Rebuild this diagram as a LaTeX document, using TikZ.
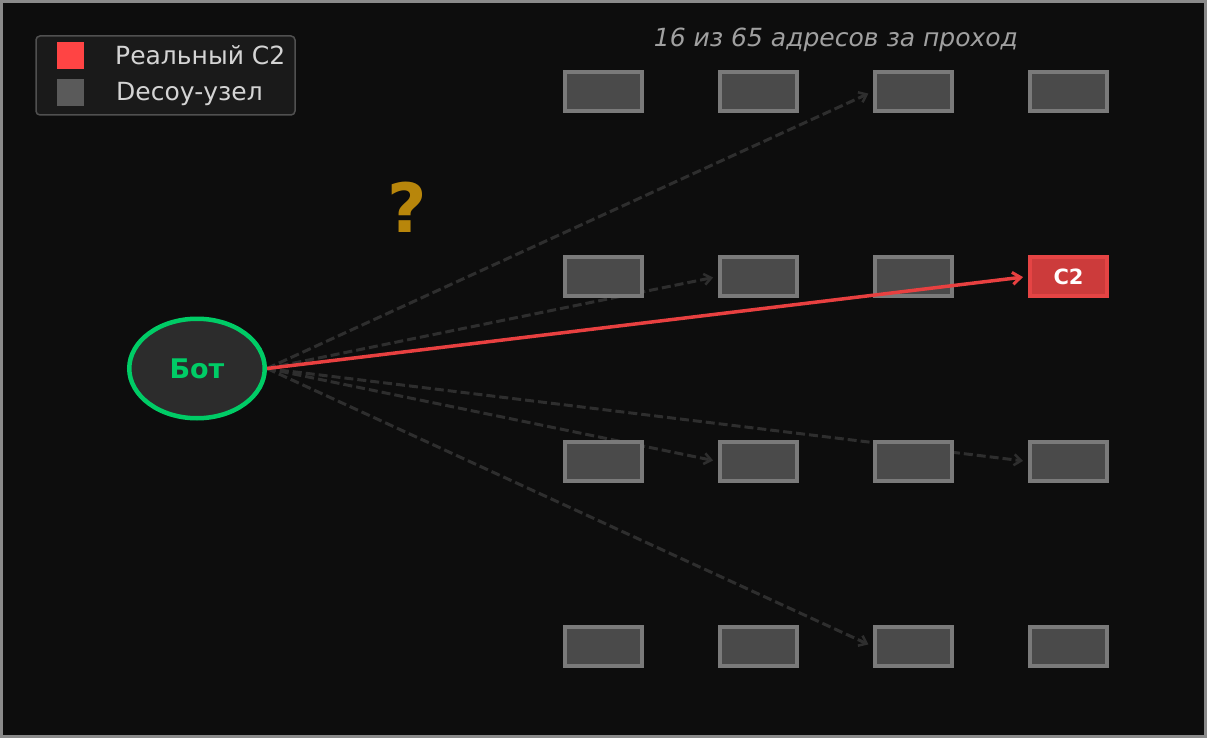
\documentclass[tikz,border=0pt]{standalone}
\usepackage{fontspec}
\setmainfont{DejaVu Sans}
\usetikzlibrary{arrows.meta,shapes.geometric}
\pgfdeclarelayer{background}
\pgfsetlayers{background,main}
\definecolor{bg}{HTML}{0D0D0D}
\definecolor{frame}{HTML}{8A8A8A}
\definecolor{boxfill}{HTML}{4A4A4A}
\definecolor{boxline}{HTML}{7A7A7A}
\definecolor{cfill}{HTML}{CC3B3B}
\definecolor{cline}{HTML}{E54444}
\definecolor{redarrow}{HTML}{E84040}
\definecolor{dasharrow}{HTML}{2E2E2E}
\definecolor{botgreen}{HTML}{00CC66}
\definecolor{botfill}{HTML}{2C2C2C}
\definecolor{legfill}{HTML}{1A1A1A}
\definecolor{legline}{HTML}{505050}
\definecolor{legred}{HTML}{FF4444}
\definecolor{leggray}{HTML}{5A5A5A}
\definecolor{txt}{HTML}{D4D4D4}
\definecolor{titlegray}{HTML}{A0A0A0}
\definecolor{qmark}{HTML}{B8860B}
\tikzset{
  decoy/.style={draw=boxline, fill=boxfill, line width=4pt, minimum width=77pt, minimum height=39pt, inner sep=0pt},
  realc/.style={draw=cline, fill=cfill, line width=4pt, minimum width=77pt, minimum height=39pt, inner sep=0pt, text=white, font=\bfseries\fontsize{21}{24}\selectfont},
  probe/.style={draw=dasharrow, line width=3pt, dash pattern=on 9pt off 4pt, -{Straight Barb[length=7pt,width=11pt,line width=2.5pt]}, shorten >=5pt},
  hit/.style={draw=redarrow, line width=3.5pt, -{Straight Barb[length=8pt,width=12pt,line width=3pt]}, shorten >=5pt},
  legtext/.style={anchor=base west, inner sep=0pt, text=txt, font=\fontsize{25}{28}\selectfont},
}
\begin{document}
\begin{tikzpicture}[x=1pt,y=-1pt]
\useasboundingbox (0,0) rectangle (1207,738);
\begin{pgfonlayer}{background}
\fill[bg] (0,0) rectangle (1207,738);
\end{pgfonlayer}
\draw[frame, line width=3pt] (1.5,1.5) rectangle (1205.5,736.5);

% title
\node[anchor=base, inner sep=0pt, text=titlegray, font=\itshape\fontsize{25}{28}\selectfont] (title) at (836,47) {16 из 65 адресов за проход};

% legend
\draw[legline, fill=legfill, line width=1.5pt, rounded corners=4pt] (36,36) rectangle (295,115);
\fill[legred] (57,42) rectangle (84,69);
\fill[leggray] (57,79) rectangle (84,106);
\node[legtext] (l1) at (115,65) {Реальный C2};
\node[legtext] (l2) at (116,101) {Decoy-узел};

% question mark
\node[anchor=base, inner sep=0pt, text=qmark, font=\bfseries\fontsize{68}{72}\selectfont] (q) at (407,233) {?};

% bot
\node[ellipse, draw=botgreen, fill=botfill, line width=4.5pt, minimum width=135.5pt, minimum height=99.5pt, inner sep=0pt, text=botgreen, font=\bfseries\fontsize{27}{30}\selectfont] (bot) at (197,368.5) {Бот};

% boxes
\foreach \c/\x in {1/603.5,2/758.5,3/913.5,4/1068.5}{
  \foreach \r/\y in {1/91.5,2/276.5,3/461.5,4/646.5}{
    \ifnum\r\c=24\relax\else
      \node[decoy] (b\r\c) at (\x,\y) {};
    \fi
  }
}
\node[realc] (b24) at (1068.5,276.5) {C2};

% dashed probes behind boxes
\begin{pgfonlayer}{background}
\draw[probe] (bot.east) -- (b13.west);
\draw[probe] (bot.east) -- (b22.west);
\draw[probe] (bot.east) -- (b32.west);
\draw[probe] (bot.east) -- (b34.west);
\draw[probe] (bot.east) -- (b43.west);
\end{pgfonlayer}

% real hit on top
\draw[hit] (bot.east) -- (b24.west);
\end{tikzpicture}
\end{document}
